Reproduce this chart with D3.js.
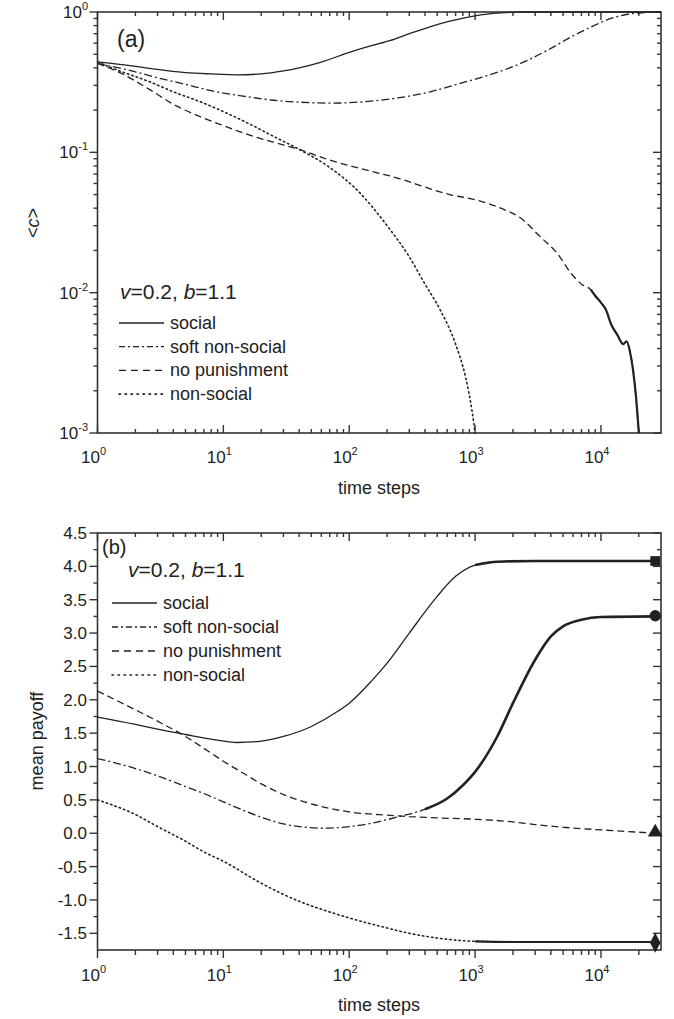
<!DOCTYPE html>
<html><head><meta charset="utf-8">
<script src="https://cdn.jsdelivr.net/npm/d3@7"></script>
<style>
body{margin:0;background:#fff}
svg{display:block}
text{font-family:"Liberation Sans",Arial,Helvetica,sans-serif;fill:#222}
</style>
</head><body>
<svg id="c" width="674" height="1019"></svg>
<script>
// ---------- DATA ----------
const seriesNames = ["social", "soft non-social", "no punishment", "non-social"];
const paramLabel = ["v", "=0.2, ", "b", "=1.1"];
const xMajorTicks = [1, 10, 100, 1000, 10000];
const yTopMajorTicks = [1, 0.1, 0.01, 0.001];
const yBotMajorTicks = [-1.5, -1.0, -0.5, 0.0, 0.5, 1.0, 1.5, 2.0, 2.5, 3.0, 3.5, 4.0, 4.5];
const yBotMinorTicks = [-1.25, -0.75, -0.25, 0.25, 0.75, 1.25, 1.75, 2.25, 2.75, 3.25, 3.75, 4.25];

// panel (a): fraction of cooperators <c> vs time
const topSocial = [[1,0.441],[2,0.41],[3,0.39],[5,0.37],[8,0.362],[13,0.357],[20,0.362],[30,0.38],[40,0.4],[60,0.44],[100,0.515],[150,0.575],[210,0.625],[300,0.7],[450,0.79],[630,0.86],[1000,0.94],[1600,0.985],[2500,1.0],[30000,1.0]];
const topSoft = [[1,0.43],[2,0.375],[3,0.34],[5,0.305],[8,0.275],[15,0.25],[25,0.235],[40,0.228],[70,0.224],[120,0.228],[250,0.245],[440,0.27],[760,0.31],[1300,0.356],[2300,0.43],[4000,0.55],[5700,0.66],[8300,0.78],[12000,0.9],[17000,0.97],[22000,0.99],[30000,1.0]];
const topNoPun = [[1,0.43],[1.5,0.37],[2.6,0.28],[4,0.22],[6.5,0.18],[10,0.155],[16,0.133],[25,0.118],[40,0.105],[70,0.088],[120,0.077],[250,0.065],[440,0.055],[630,0.05],[1000,0.046],[1600,0.04],[2300,0.034],[3300,0.025],[4500,0.019],[5800,0.0137],[7000,0.0115],[8300,0.0105],[9000,0.0095],[10000,0.0085],[11000,0.0075],[12000,0.006],[13500,0.005],[15000,0.0043],[16000,0.0045],[17000,0.0038],[18000,0.0028],[19000,0.0018],[20000,0.001]];
const topNonSocial = [[1,0.44],[1.5,0.38],[2.6,0.318],[4,0.27],[6.5,0.23],[10,0.195],[16,0.16],[25,0.13],[40,0.105],[70,0.078],[120,0.052],[200,0.03],[300,0.018],[400,0.0115],[530,0.0075],[700,0.0043],[840,0.0025],[950,0.0014],[1000,0.001]];

// panel (b): mean payoff vs time
const botSocial = [[1,1.74],[2,1.63],[3,1.56],[5,1.48],[8,1.41],[13,1.36],[20,1.38],[30,1.45],[50,1.6],[80,1.82],[100,1.95],[150,2.28],[200,2.55],[300,3.0],[500,3.55],[700,3.85],[1000,4.02],[1500,4.07],[3000,4.08],[10000,4.08],[27000,4.08]];
const botSoft = [[1,1.12],[2,0.97],[3,0.86],[5,0.7],[8,0.55],[10,0.47],[15,0.33],[20,0.24],[30,0.14],[40,0.1],[60,0.075],[100,0.1],[150,0.15],[250,0.25],[400,0.36],[600,0.52],[800,0.72],[1000,0.92],[1500,1.45],[2000,1.95],[3000,2.6],[4000,2.95],[5000,3.1],[7000,3.2],[10000,3.24],[27000,3.25]];
const botNoPun = [[1,2.13],[2,1.85],[3,1.68],[5,1.45],[8,1.2],[10,1.08],[15,0.88],[20,0.74],[30,0.58],[50,0.44],[100,0.32],[200,0.27],[300,0.25],[500,0.23],[1000,0.21],[2000,0.17],[3000,0.13],[5000,0.09],[10000,0.05],[20000,0.015],[27000,0.0]];
const botNonSocial = [[1,0.5],[2,0.28],[3,0.1],[5,-0.12],[7,-0.28],[10,-0.42],[20,-0.75],[40,-1.02],[70,-1.18],[100,-1.27],[200,-1.42],[300,-1.5],[500,-1.57],[1000,-1.62],[2000,-1.63],[27000,-1.63]];
// end-point markers of panel (b)
const endT = 27000;
const endValues = [4.08, 3.26, 0.0, -1.64];

// ---------- STYLE ----------
const INK = "#222";
const AX = "#333";
const dashes = [null, "8,3,2,3", "7,4", "1.4,3.2"];
const legendDashes = [null, "6,3,2,3", "7,5", "1.5,4.5"];
const symbolTypes = [d3.symbolSquare, d3.symbolCircle, d3.symbolTriangle, d3.symbolDiamond];

const svg = d3.select("#c");
const L = 97.5, R = 661;
const x = d3.scaleLog().domain([1, 30000]).range([L, R]);
const yTop = d3.scaleLog().domain([0.001, 1]).range([433, 12]);
const yBot = d3.scaleLinear().domain([-1.75, 4.5]).range([950, 533]);

function minorsLog(domain) {
  const out = [];
  for (let k = -5; k <= 6; k++) for (let m = 2; m <= 9; m++) {
    const v = m * Math.pow(10, k);
    if (v > domain[0] * 1.0001 && v < domain[1] * 0.9999) out.push(v);
  }
  return out;
}
const xMinor = minorsLog([1, 30000]);
const yTopMinor = minorsLog([0.001, 1]);

function xTicks(scale, vals, y0, len) {
  svg.append("g").selectAll("line").data(vals).join("line")
    .attr("x1", d => scale(d)).attr("x2", d => scale(d))
    .attr("y1", y0).attr("y2", y0 + len)
    .attr("stroke", AX).attr("stroke-width", 1.4);
}
function yTicks(scale, vals, x0, len) {
  svg.append("g").selectAll("line").data(vals).join("line")
    .attr("y1", d => scale(d)).attr("y2", d => scale(d))
    .attr("x1", x0).attr("x2", x0 + len)
    .attr("stroke", AX).attr("stroke-width", 1.4);
}
function frame(y0, y1) {
  svg.append("rect").attr("x", L).attr("y", y0).attr("width", R - L).attr("height", y1 - y0)
    .attr("fill", "none").attr("stroke", AX).attr("stroke-width", 1.6);
}
function powLabel(px, py, exp, anchor) {
  const t = svg.append("text").attr("x", px).attr("y", py).attr("font-size", 17).attr("text-anchor", anchor);
  t.append("tspan").text("10");
  t.append("tspan").attr("font-size", 11).attr("dy", -8).text(exp);
}

// ---------- PANEL (a) ----------
frame(12, 433);
xTicks(x, xMajorTicks, 433, -8);
xTicks(x, xMinor, 433, -4);
xTicks(x, xMajorTicks, 12, 8);
xTicks(x, xMinor, 12, 4);
yTicks(yTop, yTopMajorTicks, L, -8);
yTicks(yTop, yTopMinor, L, -4);
yTicks(yTop, yTopMajorTicks, R, -8);
yTicks(yTop, yTopMinor, R, -4);
xMajorTicks.forEach(v => powLabel(x(v) - 4, 463, String(Math.round(Math.log10(v))), "middle"));
yTopMajorTicks.forEach(v => {
  const e = Math.round(Math.log10(v));
  const t = svg.append("text").attr("x", 88).attr("y", yTop(v) + 6).attr("font-size", 17).attr("text-anchor", "end");
  t.append("tspan").text("10");
  t.append("tspan").attr("font-size", 11).attr("dy", -8).text(e === 0 ? "0" : "-" + Math.abs(e));
});
svg.append("text").attr("x", 379).attr("y", 494).attr("text-anchor", "middle").attr("font-size", 18).text("time steps");
{
  const t = svg.append("text").attr("transform", "translate(39,223) rotate(-90)").attr("text-anchor", "middle").attr("font-size", 18);
  t.append("tspan").text("<");
  t.append("tspan").attr("font-style", "italic").text("c");
  t.append("tspan").text(">");
}
svg.append("text").attr("x", 117).attr("y", 47).attr("font-size", 23).text("(a)");

svg.append("clipPath").attr("id", "clipA").append("rect").attr("x", L).attr("y", 11).attr("width", R - L).attr("height", 423);
const lineTop = d3.line().x(d => x(d[0])).y(d => yTop(d[1])).curve(d3.curveMonotoneX);
[topSocial, topSoft, topNoPun, topNonSocial].forEach((s, i) => {
  svg.append("path").attr("d", lineTop(s)).attr("fill", "none").attr("stroke", INK)
    .attr("stroke-width", i === 3 ? 1.6 : 1.3).attr("stroke-linecap", i === 3 ? "round" : "butt")
    .attr("stroke-dasharray", dashes[i]).attr("clip-path", "url(#clipA)");
});
// heavy noisy tail of the no-punishment curve
svg.append("path").attr("d", lineTop(topNoPun.filter(d => d[0] >= 8300))).attr("fill", "none")
  .attr("stroke", INK).attr("stroke-width", 2.2).attr("clip-path", "url(#clipA)");

function paramText(px, py) {
  const t = svg.append("text").attr("x", px).attr("y", py).attr("font-size", 21);
  paramLabel.forEach((s, i) => t.append("tspan").attr("font-style", i % 2 === 0 ? "italic" : "normal").text(s));
}
paramText(120, 299);
function legend(x0, x1, y0, dy) {
  seriesNames.forEach((n, i) => {
    const yy = y0 + i * dy;
    svg.append("line").attr("x1", x0).attr("x2", x1).attr("y1", yy).attr("y2", yy)
      .attr("stroke", INK).attr("stroke-width", i === 3 ? 1.6 : 1.3)
      .attr("stroke-linecap", i === 3 ? "round" : "butt").attr("stroke-dasharray", legendDashes[i]);
    svg.append("text").attr("x", x1 + 6).attr("y", yy + 6).attr("font-size", 18).text(n);
  });
}
legend(119, 164, 323, 23.7);

// ---------- PANEL (b) ----------
frame(533, 950);
xTicks(x, xMajorTicks, 950, 8);
xTicks(x, xMinor, 950, 5);
xTicks(x, xMajorTicks, 533, 8);
xTicks(x, xMinor, 533, 4);
yTicks(yBot, yBotMajorTicks, L, -8);
yTicks(yBot, yBotMinorTicks, L, -4);
yTicks(yBot, yBotMajorTicks, R, -8);
yTicks(yBot, yBotMinorTicks, R, -4);
xMajorTicks.forEach(v => powLabel(x(v) - 4, 981, String(Math.round(Math.log10(v))), "middle"));
yBotMajorTicks.forEach(v => {
  svg.append("text").attr("x", 87).attr("y", yBot(v) + 6).attr("font-size", 17).attr("text-anchor", "end")
    .text(v.toFixed(1));
});
svg.append("text").attr("x", 379).attr("y", 1011).attr("text-anchor", "middle").attr("font-size", 18).text("time steps");
svg.append("text").attr("transform", "translate(43,741) rotate(-90)").attr("text-anchor", "middle").attr("font-size", 18).text("mean payoff");
svg.append("text").attr("x", 102).attr("y", 554).attr("font-size", 20).text("(b)");

const lineBot = d3.line().x(d => x(d[0])).y(d => yBot(d[1])).curve(d3.curveMonotoneX);
const botSeries = [botSocial, botSoft, botNoPun, botNonSocial];
const heavyFrom = [1000, 400, Infinity, 600];
botSeries.forEach((s, i) => {
  svg.append("path").attr("d", lineBot(s)).attr("fill", "none").attr("stroke", INK)
    .attr("stroke-width", i === 3 ? 1.6 : 1.3).attr("stroke-linecap", i === 3 ? "round" : "butt")
    .attr("stroke-dasharray", dashes[i]);
  const tail = s.filter(d => d[0] >= heavyFrom[i]);
  if (tail.length > 1) {
    svg.append("path").attr("d", lineBot(tail)).attr("fill", "none").attr("stroke", INK)
      .attr("stroke-width", i === 3 ? 2.2 : 2.6);
  }
});
endValues.forEach((v, i) => {
  svg.append("path").attr("d", d3.symbol().type(symbolTypes[i]).size(i === 1 ? 100 : 95)())
    .attr("transform", `translate(${x(endT)},${yBot(v) - (i === 2 ? 1 : 0)})${i === 3 ? " scale(1,1.1)" : ""}`)
    .attr("fill", INK);
});
paramText(128, 577);
legend(112, 157, 603, 24);
</script>
</body></html>
